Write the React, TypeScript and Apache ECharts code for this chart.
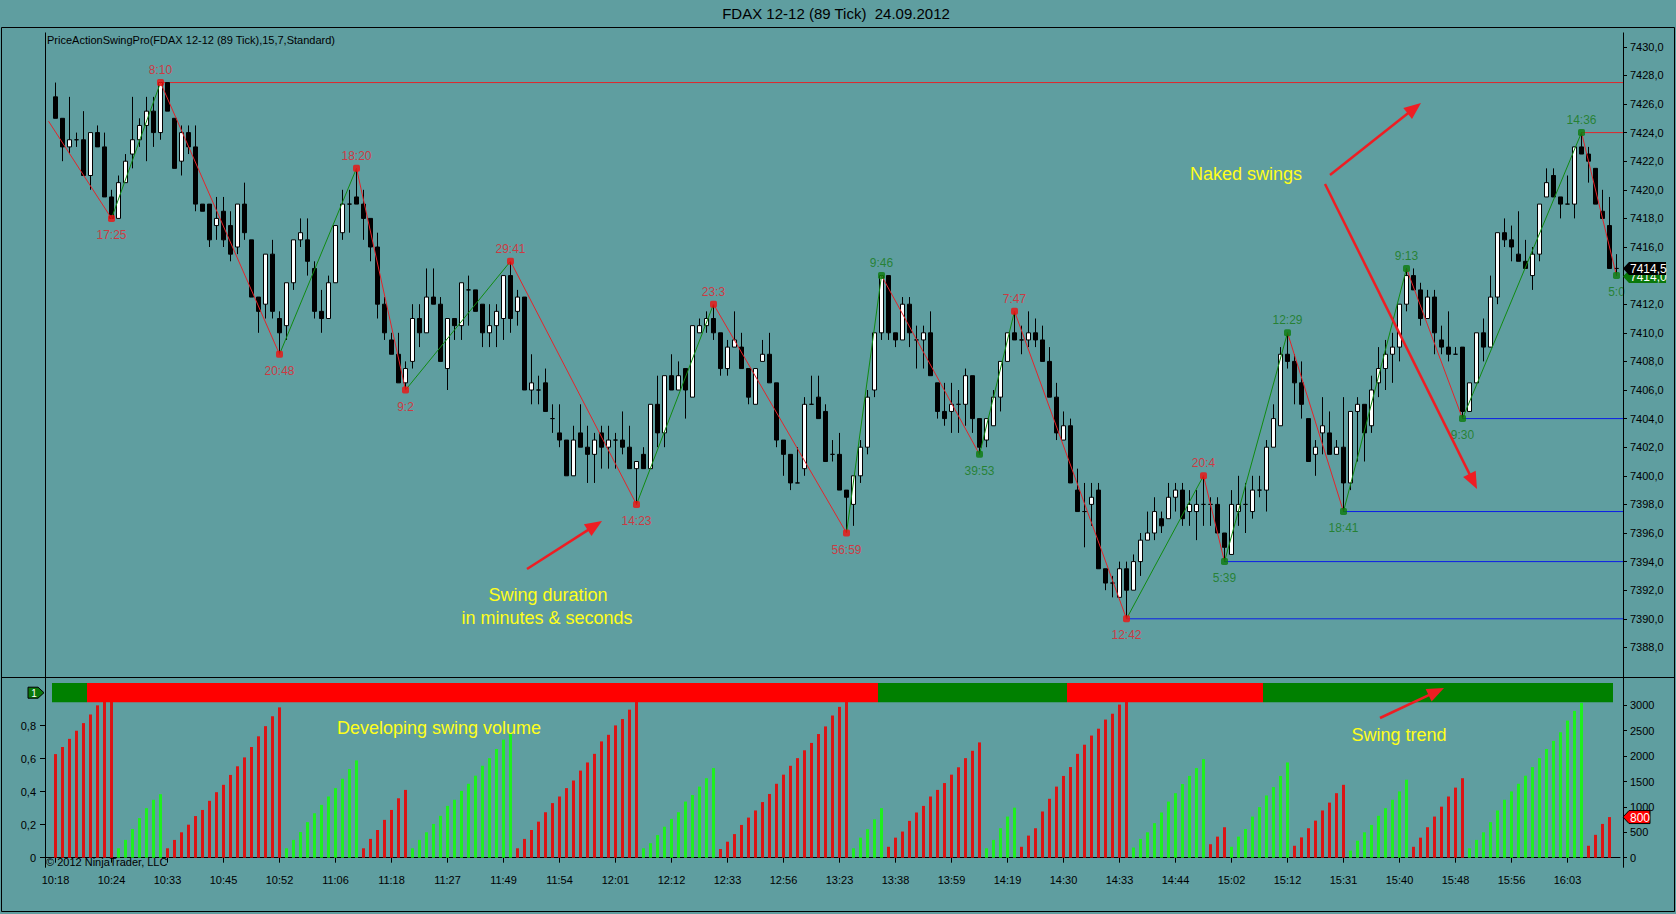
import React, { useEffect, useRef } from "react";
import * as echarts from "echarts";

// ---------- DATA ----------
const title = "FDAX 12-12 (89 Tick)  24.09.2012";
const indicatorLabel = "PriceActionSwingPro(FDAX 12-12 (89 Tick),15,7,Standard)";
const copyright = "\u00a9 2012 NinjaTrader, LLC";

// x-axis time labels, one every 8 bars
const timeLabels = [
  "10:18", "10:24", "10:33", "10:45", "10:52", "11:06", "11:18", "11:27", "11:49", "11:54",
  "12:01", "12:12", "12:33", "12:56", "13:23", "13:38", "13:59", "14:19", "14:30", "14:33",
  "14:44", "15:02", "15:12", "15:31", "15:40", "15:48", "15:56", "16:03",
];
const LABEL_EVERY = 8;

// 89-tick bars: [open, high, low, close]
const ohlc: number[][] = [
  [7426.5, 7427.5, 7425.0, 7425.0], [7425.0, 7425.0, 7422.0, 7423.0], [7423.0, 7426.5, 7422.5, 7423.5], [7423.5, 7424.0, 7423.0, 7423.5],
  [7423.5, 7425.5, 7421.0, 7421.0], [7421.0, 7424.0, 7420.0, 7424.0], [7424.0, 7424.5, 7423.0, 7423.0], [7423.0, 7424.0, 7419.5, 7419.5],
  [7419.5, 7420.0, 7418.0, 7418.0], [7418.0, 7421.0, 7418.0, 7420.5], [7420.5, 7422.5, 7420.5, 7422.0], [7422.5, 7426.5, 7421.5, 7423.5],
  [7423.5, 7425.0, 7423.0, 7424.5], [7424.5, 7426.5, 7422.0, 7425.5], [7425.5, 7426.5, 7423.0, 7424.0], [7424.0, 7427.5, 7423.5, 7427.5],
  [7427.5, 7427.5, 7425.5, 7425.5], [7425.0, 7425.0, 7421.5, 7421.5], [7422.0, 7424.5, 7421.0, 7424.0], [7424.0, 7424.5, 7422.5, 7423.0],
  [7423.0, 7424.5, 7418.5, 7419.0], [7419.0, 7419.0, 7418.5, 7418.5], [7419.0, 7419.0, 7416.0, 7416.5], [7417.5, 7419.5, 7416.5, 7418.0],
  [7418.5, 7419.5, 7416.0, 7416.5], [7417.5, 7418.5, 7415.0, 7415.5], [7416.0, 7419.0, 7415.5, 7419.0], [7419.0, 7420.5, 7416.5, 7417.0],
  [7416.5, 7416.5, 7412.5, 7412.5], [7412.5, 7412.5, 7410.0, 7411.5], [7412.0, 7415.5, 7411.0, 7415.5], [7415.5, 7416.5, 7411.0, 7411.5],
  [7411.0, 7411.5, 7408.5, 7410.0], [7410.5, 7413.5, 7409.5, 7413.5], [7413.5, 7416.5, 7413.0, 7416.5], [7416.5, 7418.0, 7416.0, 7417.0],
  [7416.5, 7418.0, 7414.0, 7415.0], [7414.5, 7415.0, 7411.0, 7411.5], [7411.5, 7413.0, 7410.0, 7411.0], [7411.0, 7414.0, 7411.0, 7413.5],
  [7413.5, 7417.5, 7413.5, 7417.5], [7417.0, 7420.0, 7416.5, 7419.0], [7419.0, 7420.0, 7417.0, 7419.0], [7419.5, 7421.5, 7419.0, 7419.0],
  [7419.0, 7420.0, 7416.5, 7418.0], [7418.0, 7418.0, 7415.0, 7416.0], [7416.0, 7417.0, 7411.0, 7412.0], [7412.0, 7412.5, 7409.5, 7410.0],
  [7409.5, 7410.0, 7408.5, 7408.5], [7408.5, 7410.0, 7406.5, 7406.5], [7406.5, 7408.0, 7406.0, 7407.5], [7408.0, 7412.0, 7407.5, 7411.0],
  [7411.0, 7412.0, 7409.0, 7410.0], [7410.0, 7414.5, 7410.0, 7412.5], [7412.5, 7414.5, 7412.0, 7412.0], [7412.0, 7412.5, 7408.0, 7408.0],
  [7407.5, 7411.0, 7406.0, 7411.0], [7411.0, 7411.0, 7409.5, 7410.5], [7410.5, 7413.5, 7409.5, 7413.5], [7413.0, 7414.0, 7410.5, 7413.0],
  [7413.0, 7413.0, 7411.5, 7411.5], [7412.0, 7412.0, 7409.0, 7410.0], [7410.0, 7412.0, 7409.0, 7410.5], [7410.5, 7412.0, 7409.0, 7411.5],
  [7411.0, 7414.0, 7409.5, 7414.0], [7414.0, 7415.0, 7410.0, 7411.0], [7411.5, 7413.0, 7410.5, 7412.5], [7412.5, 7412.5, 7406.0, 7406.0],
  [7406.0, 7408.5, 7405.0, 7406.5], [7406.0, 7407.0, 7405.0, 7406.0], [7406.5, 7407.5, 7404.5, 7404.5], [7404.0, 7405.0, 7403.0, 7404.0],
  [7403.0, 7405.0, 7402.0, 7402.5], [7402.5, 7402.5, 7400.0, 7400.0], [7400.0, 7403.5, 7400.0, 7402.5], [7403.0, 7405.0, 7402.0, 7402.0],
  [7402.0, 7403.5, 7399.5, 7401.5], [7401.5, 7403.0, 7399.5, 7402.5], [7403.0, 7403.5, 7400.5, 7402.0], [7402.0, 7403.5, 7400.5, 7402.5],
  [7402.5, 7403.0, 7400.5, 7402.5], [7402.5, 7404.5, 7401.5, 7402.0], [7402.0, 7403.5, 7400.5, 7400.5], [7400.5, 7401.0, 7398.0, 7401.0],
  [7401.5, 7402.0, 7400.5, 7400.5], [7400.5, 7405.0, 7400.5, 7405.0], [7405.0, 7407.0, 7402.0, 7403.0], [7403.0, 7407.0, 7402.0, 7407.0],
  [7407.0, 7408.5, 7406.0, 7406.0], [7406.0, 7408.0, 7406.0, 7407.0], [7407.5, 7407.5, 7404.0, 7406.0], [7405.5, 7410.5, 7405.5, 7410.5],
  [7410.0, 7411.0, 7410.0, 7410.5], [7410.5, 7411.5, 7410.0, 7411.0], [7411.0, 7412.0, 7409.5, 7410.0], [7410.0, 7410.0, 7407.0, 7407.5],
  [7407.5, 7409.5, 7407.0, 7409.0], [7409.0, 7411.5, 7409.0, 7409.5], [7409.0, 7410.0, 7407.5, 7407.5], [7407.5, 7407.5, 7405.0, 7405.5],
  [7405.0, 7407.5, 7405.0, 7407.5], [7408.0, 7409.5, 7408.0, 7408.5], [7408.5, 7410.0, 7406.5, 7406.5], [7406.5, 7406.5, 7402.0, 7402.5],
  [7402.5, 7402.5, 7400.0, 7401.5], [7401.5, 7401.5, 7399.0, 7399.5], [7399.5, 7402.0, 7399.5, 7399.5], [7400.5, 7405.5, 7400.0, 7405.0],
  [7405.0, 7407.0, 7405.0, 7405.0], [7405.5, 7407.0, 7404.0, 7404.0], [7404.5, 7405.0, 7401.0, 7401.0], [7401.5, 7402.5, 7401.0, 7401.5],
  [7401.5, 7403.0, 7399.0, 7399.0], [7399.0, 7399.0, 7396.0, 7398.5], [7398.0, 7400.0, 7396.5, 7400.0], [7400.0, 7402.5, 7399.5, 7402.0],
  [7402.0, 7406.0, 7401.5, 7405.5], [7406.0, 7410.0, 7405.5, 7410.0], [7410.0, 7414.0, 7409.5, 7414.0], [7414.0, 7414.0, 7409.5, 7410.0],
  [7410.0, 7410.0, 7409.0, 7409.5], [7409.5, 7412.5, 7409.5, 7412.0], [7412.0, 7412.5, 7409.0, 7410.0], [7409.5, 7410.5, 7407.5, 7409.5],
  [7409.5, 7410.5, 7407.5, 7410.0], [7410.0, 7411.5, 7407.0, 7407.0], [7406.5, 7406.5, 7404.0, 7404.5], [7404.5, 7406.5, 7403.5, 7404.0],
  [7404.5, 7406.5, 7403.0, 7405.0], [7405.0, 7406.0, 7403.0, 7405.0], [7405.0, 7407.5, 7403.5, 7407.0], [7407.0, 7407.0, 7403.0, 7404.0],
  [7404.0, 7404.0, 7401.5, 7402.0], [7402.5, 7404.0, 7402.0, 7404.0], [7403.5, 7406.0, 7403.5, 7405.5], [7405.5, 7408.0, 7404.5, 7408.0],
  [7408.0, 7410.0, 7408.0, 7410.0], [7410.0, 7411.5, 7409.5, 7409.5], [7409.5, 7410.5, 7408.5, 7409.5], [7409.5, 7411.5, 7409.0, 7410.0],
  [7410.0, 7411.0, 7409.0, 7409.5], [7409.5, 7410.5, 7408.0, 7408.0], [7408.0, 7409.0, 7405.5, 7405.5], [7405.5, 7406.5, 7402.5, 7403.0],
  [7402.5, 7404.5, 7402.5, 7403.5], [7403.5, 7404.0, 7399.5, 7399.5], [7399.0, 7400.5, 7397.5, 7397.5], [7397.5, 7399.5, 7395.0, 7397.5],
  [7398.0, 7399.5, 7396.5, 7398.5], [7399.0, 7399.5, 7393.5, 7393.5], [7393.5, 7393.5, 7392.0, 7392.5], [7392.5, 7393.0, 7391.5, 7392.5],
  [7391.5, 7394.0, 7391.5, 7393.5], [7393.5, 7394.0, 7390.0, 7392.0], [7392.0, 7394.5, 7392.0, 7394.0], [7394.0, 7396.0, 7393.0, 7395.5],
  [7395.5, 7397.5, 7395.5, 7396.0], [7396.0, 7398.5, 7395.5, 7397.5], [7397.0, 7397.5, 7396.0, 7396.5], [7397.0, 7399.5, 7397.0, 7398.5],
  [7398.5, 7399.5, 7397.5, 7399.0], [7399.0, 7399.5, 7396.5, 7397.0], [7397.5, 7399.0, 7396.5, 7398.0], [7397.5, 7399.0, 7395.5, 7398.0],
  [7398.0, 7400.0, 7396.5, 7398.0], [7398.0, 7398.5, 7396.5, 7398.0], [7398.0, 7398.5, 7396.0, 7396.0], [7396.0, 7396.0, 7394.0, 7395.0],
  [7394.5, 7399.0, 7394.5, 7398.0], [7397.5, 7400.0, 7396.5, 7398.0], [7398.0, 7399.5, 7396.0, 7398.0], [7397.5, 7400.0, 7397.0, 7399.0],
  [7399.0, 7400.0, 7398.5, 7399.0], [7399.0, 7402.5, 7397.5, 7402.0], [7402.0, 7405.0, 7402.0, 7404.0], [7403.5, 7409.0, 7403.5, 7408.5],
  [7408.5, 7410.0, 7407.5, 7408.0], [7408.0, 7408.5, 7405.0, 7406.5], [7406.5, 7408.0, 7404.0, 7405.0], [7404.0, 7404.0, 7401.0, 7401.0],
  [7401.5, 7402.5, 7400.0, 7402.0], [7403.0, 7405.5, 7401.5, 7403.5], [7403.0, 7404.5, 7401.5, 7401.5], [7401.5, 7402.5, 7401.5, 7402.0],
  [7402.0, 7405.5, 7397.5, 7399.5], [7399.5, 7404.5, 7399.0, 7404.5], [7404.5, 7405.5, 7401.0, 7405.0], [7405.0, 7405.0, 7401.0, 7403.0],
  [7403.5, 7407.0, 7403.0, 7406.0], [7406.5, 7409.0, 7405.5, 7407.5], [7407.5, 7409.5, 7406.0, 7408.5], [7408.5, 7410.0, 7406.5, 7409.0],
  [7409.0, 7412.0, 7408.0, 7412.0], [7412.0, 7414.5, 7411.5, 7414.0], [7414.0, 7414.5, 7413.0, 7413.0], [7413.0, 7413.5, 7410.5, 7411.0],
  [7411.0, 7413.0, 7411.0, 7412.5], [7412.5, 7413.0, 7408.5, 7410.0], [7409.5, 7410.5, 7408.5, 7409.0], [7409.0, 7411.5, 7408.0, 7408.5],
  [7408.5, 7409.0, 7408.5, 7408.5], [7409.0, 7409.0, 7404.0, 7404.5], [7404.5, 7406.5, 7404.5, 7406.5], [7406.5, 7410.0, 7406.5, 7410.0],
  [7410.0, 7411.0, 7408.0, 7409.0], [7409.0, 7414.0, 7409.0, 7412.5], [7412.5, 7417.0, 7412.0, 7417.0], [7417.0, 7418.0, 7416.0, 7416.5],
  [7416.5, 7417.5, 7415.0, 7416.0], [7415.5, 7418.5, 7415.0, 7415.0], [7415.0, 7416.5, 7414.5, 7414.5], [7414.0, 7416.0, 7413.0, 7415.5],
  [7415.5, 7419.0, 7415.0, 7419.0], [7419.5, 7421.5, 7419.5, 7420.5], [7421.0, 7421.5, 7419.5, 7419.5], [7419.5, 7419.5, 7418.0, 7419.0],
  [7419.0, 7421.0, 7419.0, 7419.0], [7419.0, 7423.0, 7418.0, 7423.0], [7423.0, 7424.0, 7422.5, 7422.5], [7422.5, 7423.0, 7420.5, 7422.0],
  [7421.5, 7421.5, 7419.0, 7419.0], [7418.5, 7420.0, 7418.0, 7418.0], [7417.5, 7419.5, 7414.5, 7414.5], [7414.5, 7415.5, 7414.0, 7414.5],
];

// developing swing volume per bar (last bar has none drawn)
const swingVolume: (number | null)[] = [
  2040, 2180, 2340, 2500, 2650, 2820, 3000, 3200, 3350,
  185, 350, 565, 780, 975, 1140, 1250,
  185, 350, 500, 650, 820, 940, 1120, 1290, 1435, 1630, 1800, 1975, 2180, 2390, 2590, 2785, 2960,
  185, 350, 505, 700, 875, 1040, 1205, 1370, 1555, 1745, 1915,
  185, 370, 545, 745, 940, 1170, 1335,
  185, 350, 500, 665, 825, 1020, 1140, 1315, 1455, 1615, 1810, 1960, 2140, 2325, 2455,
  185, 370, 545, 710, 895, 1075, 1205, 1370, 1520, 1715, 1875, 2045, 2290, 2420, 2605, 2730, 2915, 3150,
  185, 285, 445, 610, 765, 895, 1105, 1235, 1400, 1565, 1765,
  170, 315, 465, 645, 790, 930, 1095, 1255, 1455, 1635, 1810, 1960, 2115, 2260, 2435, 2585, 2800, 2970, 3150,
  185, 395, 560, 755, 975,
  215, 395, 515, 725, 890, 1020, 1205, 1335, 1470, 1635, 1780, 1960, 2105, 2270,
  185, 350, 580, 810, 985,
  215, 435, 580, 910, 1160, 1400, 1610, 1785, 2045, 2225, 2405, 2540, 2720, 2835, 3015, 3200,
  200, 370, 500, 680, 890, 1105, 1270, 1450, 1610, 1765, 1940,
  265, 415, 600,
  215, 415, 565, 810, 995, 1225, 1390, 1610, 1875,
  235, 400, 580, 730, 930, 1085, 1270, 1435,
  140, 335, 500, 645, 825, 975, 1140, 1305, 1535,
  215, 395, 600, 810, 1005, 1205, 1380, 1565,
  185, 350, 500, 700, 930, 1140, 1305, 1455, 1615, 1785, 1960, 2140, 2300, 2470, 2700, 2890, 3050,
  235, 450, 665, 800,
  null,
];

// swing points: bar index, price, duration label, colour class (R / G)
const swings = [
  { i: 8, p: 7418.0, t: "17:25", c: "R" },
  { i: 15, p: 7427.5, t: "8:10", c: "R" },
  { i: 32, p: 7408.5, t: "20:48", c: "R" },
  { i: 43, p: 7421.5, t: "18:20", c: "R" },
  { i: 50, p: 7406.0, t: "9:2", c: "R" },
  { i: 65, p: 7415.0, t: "29:41", c: "R" },
  { i: 83, p: 7398.0, t: "14:23", c: "R" },
  { i: 94, p: 7412.0, t: "23:3", c: "R" },
  { i: 113, p: 7396.0, t: "56:59", c: "R" },
  { i: 118, p: 7414.0, t: "9:46", c: "G" },
  { i: 132, p: 7401.5, t: "39:53", c: "G" },
  { i: 137, p: 7411.5, t: "7:47", c: "R" },
  { i: 153, p: 7390.0, t: "12:42", c: "R" },
  { i: 164, p: 7400.0, t: "20:4", c: "R" },
  { i: 167, p: 7394.0, t: "5:39", c: "G" },
  { i: 176, p: 7410.0, t: "12:29", c: "G" },
  { i: 184, p: 7397.5, t: "18:41", c: "G" },
  { i: 193, p: 7414.5, t: "9:13", c: "G" },
  { i: 201, p: 7404.0, t: "9:30", c: "G" },
  { i: 218, p: 7424.0, t: "14:36", c: "G" },
  { i: 223, p: 7414.0, t: "5:0", c: "G" },
];
// where the zigzag enters the chart from the left (index -1 = padding slot)
const zigzagStart = { i: -1, p: 7424.8 };

// naked (untested) swings: bar index, price, colour class
const nakedSwings = [
  { i: 15, p: 7427.5, c: "R" },
  { i: 218, p: 7424.0, c: "R" },
  { i: 153, p: 7390.0, c: "B" },
  { i: 167, p: 7394.0, c: "B" },
  { i: 184, p: 7397.5, c: "B" },
  { i: 201, p: 7404.0, c: "B" },
];

// swing trend bar segments: [first bar, last bar, direction]
const trendSegments: [number, number, string][] = [
  [0, 4, "up"], [5, 117, "dn"], [118, 144, "up"], [145, 172, "dn"], [173, 222, "up"],
];

const priceAxis = { min: 7386, max: 7431, step: 2, first: 7388, last: 7430 };
const volAxis = { max: 3499, step: 500, last: 3000 };
const trendAxisTicks = [0, 0.2, 0.4, 0.6, 0.8];
const lastPrice = 7414.5;
const lastSwingPrice = 7414.0;
const lastVolumeTag = 800;
const trendLevel = 1;

// ---------- STYLE / LAYOUT ----------
const BG = "#5f9ea0";
const FONT = "'Liberation Sans', Arial, sans-serif";
const RED = "#e8202a";
const GREEN_LBL = "#177a17";
const ARROW_RED = "#ee1d23";
const YELLOW = "#ffff1a";
const PAD = 1;
const GL = 45;
const GW = 1575;
const AX_OFF = 3;
const G0_TOP = 32.5;
const G0_H = 643.5;
const G1_TOP = 680;
const G1_H = 177.7;
const XAX_OFF = 10;

const fmtPrice = (v: number) => v.toFixed(1).replace(".", ",");
const range = (a: number, b: number, s: number) => {
  const r: number[] = [];
  for (let v = a; v <= b + 1e-9; v += s) r.push(Math.round(v * 1000) / 1000);
  return r;
};

function buildOption() {
  const categories = ["pad"];
  ohlc.forEach((_, i) =>
    categories.push(i % LABEL_EVERY === 0 ? timeLabels[i / LABEL_EVERY] : "b" + i)
  );

  const candleData = ohlc.map(([o, h, l, c], i) => [i + PAD, o, c, l, h]);

  const pts = [zigzagStart, ...swings];
  const isHigh = (k: number) => swings[k].p > pts[k].p;
  const zigzag = pts.slice(1).map((s, k) => [pts[k].i + PAD, pts[k].p, s.i + PAD, s.p]);
  const zigDir = pts.slice(1).map((s, k) => (s.p > pts[k].p ? "up" : "dn"));

  const swingOf = (i: number) => swings.findIndex((s) => s.i >= i);
  const volData = swingVolume.map((v, i) => {
    const k = swingOf(i);
    const down = k >= 0 && !isHigh(k);
    return {
      value: [i + PAD, v == null ? "-" : v],
      itemStyle: { color: down ? "#dc1414" : "#1ef01e" },
    };
  });

  const dotData = swings.map((s, k) => {
    const col = s.c === "R" ? RED : GREEN_LBL;
    const high = isHigh(k);
    return {
      value: [s.i + PAD, s.p],
      itemStyle: { color: s.c === "R" ? "#f01010" : "#0d7a0d" },
      label: {
        show: true,
        formatter: s.t,
        position: high ? "top" : "bottom",
        distance: high ? 3 : 7,
        color: col,
        fontSize: 12,
        fontFamily: FONT,
      },
    };
  });

  const tickLabel = { color: "#000", fontSize: 11, fontFamily: FONT };
  const showAt = (idx: number) => idx >= PAD && idx < PAD + ohlc.length && (idx - PAD) % LABEL_EVERY === 0;
  const priceTicks = range(priceAxis.first, priceAxis.last, priceAxis.step);
  // the label under the last-price tags is hidden in the original
  const priceLabels = priceTicks.filter((v) => Math.abs(v - lastSwingPrice) > 0.9);

  return {
    animation: false,
    backgroundColor: BG,
    textStyle: { fontFamily: FONT },
    grid: [
      { left: GL, top: G0_TOP, width: GW, height: G0_H },
      { left: GL, top: G1_TOP, width: GW, height: G1_H },
    ],
    xAxis: [
      {
        type: "category", gridIndex: 0, data: categories, boundaryGap: true,
        axisLine: { show: false }, axisTick: { show: false }, axisLabel: { show: false },
        splitLine: { show: false },
      },
      {
        type: "category", gridIndex: 1, data: categories, boundaryGap: true, offset: XAX_OFF,
        axisLine: { show: true, lineStyle: { color: "#000", width: 1 } },
        axisTick: { show: true, alignWithLabel: true, length: 5, lineStyle: { color: "#000" }, interval: showAt },
        axisLabel: {
          ...tickLabel, margin: 7, interval: showAt,
          formatter: (v: string) => (v.includes(":") ? v : ""),
        },
        splitLine: { show: false },
      },
    ],
    yAxis: [
      {
        type: "value", gridIndex: 0, position: "right", offset: AX_OFF,
        min: priceAxis.min, max: priceAxis.max, interval: priceAxis.step,
        axisLine: { show: false },
        axisTick: { show: true, length: 4, lineStyle: { color: "#000" }, customValues: priceTicks },
        axisLabel: {
          ...tickLabel, margin: 7,
          customValues: priceLabels,
          formatter: (v: number) =>
            v < priceAxis.first - 0.5 || v > priceAxis.last + 0.5 || Math.abs(v - lastSwingPrice) < 0.9 ? "" : fmtPrice(v),
        },
        splitLine: { show: false },
      },
      {
        type: "value", gridIndex: 1, position: "left",
        min: 0, max: G1_H / 165, interval: 0.2,
        axisLine: { show: false },
        axisTick: { show: true, length: 5, lineStyle: { color: "#000" }, customValues: trendAxisTicks },
        axisLabel: {
          ...tickLabel, margin: 9, customValues: trendAxisTicks,
          formatter: (v: number) => (v === 0 ? "0" : v > 0.9 ? "" : v.toFixed(1).replace(".", ",")),
        },
        splitLine: { show: false },
      },
      {
        type: "value", gridIndex: 1, position: "right", offset: AX_OFF,
        min: 0, max: volAxis.max, interval: volAxis.step,
        axisLine: { show: false },
        axisTick: { show: true, length: 4, lineStyle: { color: "#000" }, customValues: range(0, volAxis.last, volAxis.step) },
        axisLabel: {
          ...tickLabel, margin: 7, customValues: range(0, volAxis.last, volAxis.step),
          formatter: (v: number) => (v > volAxis.last ? "" : String(v)),
        },
        splitLine: { show: false },
      },
    ],
    series: [
      {
        type: "custom", name: "naked", xAxisIndex: 0, yAxisIndex: 0, z: 2,
        data: nakedSwings.map((n) => [n.i + PAD, n.p]),
        encode: { x: 0, y: 1 },
        renderItem: (params: any, api: any) => {
          const n = nakedSwings[params.dataIndex];
          const pt = api.coord([api.value(0), api.value(1)]);
          const cs = params.coordSys;
          return {
            type: "line",
            shape: { x1: pt[0], y1: pt[1], x2: cs.x + cs.width + AX_OFF, y2: pt[1] },
            style: { stroke: n.c === "B" ? "#0a1ee6" : "#e0262a", lineWidth: 1 },
          };
        },
      },
      {
        type: "candlestick", name: "FDAX", xAxisIndex: 0, yAxisIndex: 0, z: 3,
        barWidth: 5,
        data: candleData,
        encode: { x: 0, y: [1, 2, 3, 4] },
        itemStyle: { color: "#ffffff", color0: "#000000", borderColor: "#000000", borderColor0: "#000000", borderWidth: 1 },
      },
      {
        type: "custom", name: "zigzag", xAxisIndex: 0, yAxisIndex: 0, z: 4,
        data: zigzag,
        encode: { x: [0, 2], y: [1, 3] },
        renderItem: (params: any, api: any) => {
          const a = api.coord([api.value(0), api.value(1)]);
          const b = api.coord([api.value(2), api.value(3)]);
          return {
            type: "line",
            shape: { x1: a[0], y1: a[1], x2: b[0], y2: b[1] },
            style: { stroke: zigDir[params.dataIndex] === "up" ? "#108a10" : "#e4242a", lineWidth: 1 },
          };
        },
      },
      {
        type: "scatter", name: "swings", xAxisIndex: 0, yAxisIndex: 0, z: 5,
        symbol: "roundRect", symbolSize: 7,
        data: dotData,
      },
      {
        type: "bar", name: "volume", xAxisIndex: 1, yAxisIndex: 2, z: 2,
        barWidth: 3,
        data: volData,
      },
      {
        type: "custom", name: "trend", xAxisIndex: 1, yAxisIndex: 1, z: 6,
        data: trendSegments.map(([s, e]) => [s + PAD, e + PAD, trendLevel]),
        encode: { x: [0, 1], y: 2 },
        renderItem: (params: any, api: any) => {
          const dir = trendSegments[params.dataIndex][2];
          const band = api.size([1, 0])[0];
          const lv = api.value(2);
          const a = api.coord([api.value(0), lv + 0.059]);
          const b = api.coord([api.value(1), lv - 0.058]);
          return {
            type: "rect",
            shape: { x: a[0] - band / 2, y: a[1], width: b[0] - a[0] + band, height: b[1] - a[1] },
            style: { fill: dir === "up" ? "#008000" : "#ff0000" },
          };
        },
      },
    ],
  };
}

function arrow(x1: number, y1: number, x2: number, y2: number, hl = 17, hw = 7) {
  const dx = x2 - x1, dy = y2 - y1;
  const len = Math.hypot(dx, dy);
  const ux = dx / len, uy = dy / len;
  const bx = x2 - ux * hl, by = y2 - uy * hl;
  return [
    { type: "line", z: 100, shape: { x1, y1, x2: bx + ux * 2, y2: by + uy * 2 }, style: { stroke: ARROW_RED, lineWidth: 2.5 } },
    {
      type: "polygon", z: 100,
      shape: { points: [[x2, y2], [bx - uy * hw, by + ux * hw], [bx + uy * hw, by - ux * hw]] },
      style: { fill: ARROW_RED },
    },
  ];
}

function text(x: number, y: number, t: string, size: number, fill: string, align = "center") {
  return {
    type: "text", x, y, z: 100,
    style: { text: t, fill, font: `${size}px ${FONT}`, align, textAlign: align, verticalAlign: "middle", textVerticalAlign: "middle" },
  };
}

function buildGraphics(chart: any) {
  const axisX = GL + GW + AX_OFF;
  const yLast = chart.convertToPixel({ yAxisIndex: 0 }, lastPrice);
  const ySw = chart.convertToPixel({ yAxisIndex: 0 }, lastSwingPrice);
  const yVol = chart.convertToPixel({ yAxisIndex: 2 }, lastVolumeTag);
  const yOne = chart.convertToPixel({ yAxisIndex: 1 }, trendLevel);
  const bottomAxisY = G1_TOP + G1_H + XAX_OFF;

  const tag = (y: number, t: string, fill: string, w: number, z: number, stroke?: string) => [
    {
      type: "polygon", z,
      shape: { points: [[axisX, y], [axisX + 6, y - 6.5], [axisX + w, y - 6.5], [axisX + w, y + 6.5], [axisX + 6, y + 6.5]] },
      style: { fill, stroke: stroke || null, lineWidth: 1 },
    },
    { ...text(axisX + 7, y + 0.5, t, 12, "#ffffff", "left"), z: z + 1 },
  ];

  const line = (x1: number, y1: number, x2: number, y2: number) => ({
    type: "line", z: 30, shape: { x1, y1, x2, y2 }, style: { stroke: "#000", lineWidth: 1 },
  });

  return [
    { type: "rect", z: 30, shape: { x: 1.5, y: 27.5, width: 1673, height: 884 }, style: { fill: "none", stroke: "#000", lineWidth: 1 } },
    line(1.5, 677.5, 1674.5, 677.5),
    line(GL + 0.5, G0_TOP, GL + 0.5, bottomAxisY),
    line(axisX + 0.5, G0_TOP, axisX + 0.5, bottomAxisY),
    text(836, 13, title, 15, "#000"),
    text(47, 39.5, indicatorLabel, 11, "#000", "left"),
    text(46, 862, copyright, 11, "#000", "left"),
    text(1246, 174, "Naked swings", 18, YELLOW),
    text(548, 595, "Swing duration", 18, YELLOW),
    text(547, 618, "in minutes & seconds", 18, YELLOW),
    text(439, 728, "Developing swing volume", 18, YELLOW),
    text(1399, 735, "Swing trend", 18, YELLOW),
    ...arrow(1330, 175, 1421, 103),
    ...arrow(1325, 184, 1477, 489),
    ...arrow(527, 569, 602, 521),
    ...arrow(1380, 718, 1444, 688),
    ...tag(ySw + 1, fmtPrice(lastSwingPrice), "#0a780a", 43, 110),
    ...tag(yLast, fmtPrice(lastPrice), "#000000", 43, 120),
    ...tag(yVol, String(lastVolumeTag), "#ff0000", 27, 110, "#000"),
    {
      type: "polygon", z: 110,
      shape: { points: [[GL - 1, yOne], [GL - 7, yOne - 5.5], [GL - 17, yOne - 5.5], [GL - 17, yOne + 5.5], [GL - 7, yOne + 5.5]] },
      style: { fill: "#0a780a", stroke: "#000", lineWidth: 1 },
    },
    { ...text(GL - 11, yOne + 0.5, "1", 10, "#ffffff"), z: 111 },
  ];
}

export default function App() {
  const ref = useRef<HTMLDivElement>(null);
  useEffect(() => {
    if (!ref.current) return;
    const chart = echarts.init(ref.current, null, { renderer: "svg" });
    chart.setOption(buildOption() as any);
    chart.setOption({ graphic: buildGraphics(chart) } as any);
    return () => chart.dispose();
  }, []);
  return <div ref={ref} style={{ position: "fixed", left: 0, top: 0, width: 1676, height: 914 }} />;
}
